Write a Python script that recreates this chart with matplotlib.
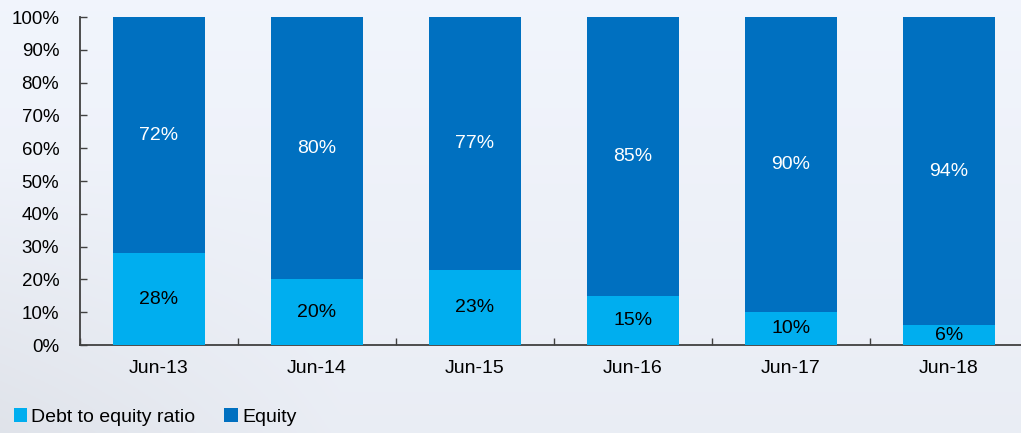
import matplotlib
matplotlib.use("Agg")
import matplotlib.pyplot as plt
import numpy as np

categories = ["Jun-13", "Jun-14", "Jun-15", "Jun-16", "Jun-17", "Jun-18"]
debt = [28, 20, 23, 15, 10, 6]
equity = [72, 80, 77, 85, 90, 94]
yticks = [0, 10, 20, 30, 40, 50, 60, 70, 80, 90, 100]

c_debt = "#00AEEF"
c_eq = "#0070C0"

plt.rcParams['font.family'] = ['Liberation Sans', 'DejaVu Sans']

W, H = 1021, 433
fig = plt.figure(figsize=(W / 100, H / 100), dpi=100, facecolor="#EEF2F7")

# subtle background gradient to hint at the photo
bg = fig.add_axes([0, 0, 1, 1], zorder=-10)
yy, xx = np.mgrid[0:1:200j, 0:1:400j]
shade = 0.94 + 0.03 * yy - 0.04 * np.clip(1 - xx * 3, 0, 1) * np.clip(1 - yy * 1.6, 0, 1)
img = np.dstack([shade * 0.975, shade * 0.99, np.clip(shade * 1.02, 0, 1)])
bg.imshow(img, aspect="auto", extent=[0, 1, 0, 1], origin="lower")
bg.axis("off")

left = 80 / W
bottom = (H - 345) / H
width = (1028 - 80) / W
height = 328 / H
ax = fig.add_axes([left, bottom, width, height])
ax.set_facecolor("none")

x = np.arange(len(categories))
bw = 0.58
ax.bar(x, debt, bw, color=c_debt, label="Debt to equity ratio", zorder=3)
ax.bar(x, equity, bw, bottom=debt, color=c_eq, label="Equity", zorder=3)

for i in range(len(categories)):
    ax.text(x[i], debt[i] / 2, f"{debt[i]}%", ha="center", va="center",
            fontsize=14, color="black", zorder=4)
    ax.text(x[i], debt[i] + equity[i] / 2, f"{equity[i]}%", ha="center",
            va="center", fontsize=14, color="white", zorder=4)

ax.set_xlim(-0.5, len(categories) - 0.5)
ax.set_ylim(0, 100)
ax.set_yticks(yticks)
ax.set_yticklabels([f"{v}%" for v in yticks], fontsize=13.5)
ax.set_xticks(x)
ax.set_xticklabels(categories, fontsize=14)
ax.tick_params(axis="x", length=0, pad=11)
ax.set_xticks(np.arange(len(categories)) - 0.5, minor=True)
ax.tick_params(axis="x", which="minor", direction="in", length=5, width=1, color="#404040")
ax.tick_params(axis="y", direction="in", length=5, width=1, color="#404040", pad=15)
for lab in ax.get_yticklabels():
    lab.set_horizontalalignment("right")

for s in ["top", "right"]:
    ax.spines[s].set_visible(False)
for s in ["left", "bottom"]:
    ax.spines[s].set_color("#404040")
    ax.spines[s].set_linewidth(1.3)

handles, labels = ax.get_legend_handles_labels()
fig.legend(handles, labels, loc="lower left", bbox_to_anchor=(0.0, -0.015),
           ncol=2, frameon=False, fontsize=14, handlelength=0.7, handleheight=0.7,
           handletextpad=0.2, columnspacing=1.5, borderaxespad=0.3)

fig.savefig("out.png", dpi=100, facecolor=fig.get_facecolor())
